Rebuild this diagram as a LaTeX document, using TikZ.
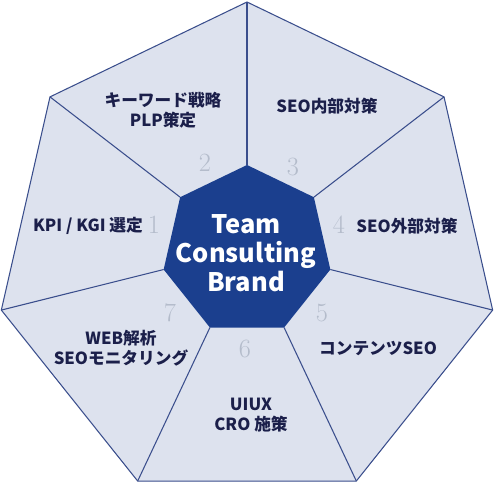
\documentclass[tikz,border=0pt]{standalone}
\usepackage{fontspec}
\newfontfamily\jpfont{Noto Sans CJK JP}
\definecolor{cellfill}{HTML}{DDE2EE}
\definecolor{edgeblue}{HTML}{3A4E8C}
\definecolor{corefill}{HTML}{1B3F8E}
\definecolor{labelink}{HTML}{1B1F4A}
\definecolor{numgray}{HTML}{B4BCCB}
\tikzset{
  label/.style={text=labelink, font=\jpfont\bfseries\fontsize{9.5}{11.5}\selectfont, align=center, inner sep=0pt},
  num/.style={text=numgray, font=\fontsize{15}{15}\selectfont, inner sep=0pt}
}

\begin{document}
\begin{tikzpicture}[x=0.02cm, y=-0.02cm]
\useasboundingbox (0,0) rectangle (494,483);

% corner points of both heptagons
\foreach \k in {0,...,6} {
  \coordinate (o\k) at ([shift={(247,254)}]-90+\k*360/7:252);
  \coordinate (i\k) at ([shift={(247,250.5)}]-90+\k*360/7:85.5);
}

\filldraw[fill=cellfill, draw=edgeblue, line width=0.6pt]
  (o0) -- (o1) -- (o2) -- (o3) -- (o4) -- (o5) -- (o6) -- cycle;
\foreach \k in {0,...,6}
  \draw[edgeblue, line width=0.6pt] (i\k) -- (o\k);
\fill[corefill] (i0) -- (i1) -- (i2) -- (i3) -- (i4) -- (i5) -- (i6) -- cycle;

\node[text=white, font=\jpfont\bfseries\fontsize{14.5}{16.5}\selectfont, align=center] (core) at (246,253) {Team\\Consulting\\Brand};

% segment texts
\node[label] (kpi) at (88,226) {KPI / KGI 選定};
\node[label] (kw) at (163,110) {キーワード戦略\\PLP策定};
\node[label] (inner) at (327,106) {SEO内部対策};
\node[label] (outer) at (407,226) {SEO外部対策};
\node[label] (cont) at (378,348) {コンテンツSEO};
\node[label] (uiux) at (251,415) {UIUX\\CRO 施策};
\node[label] (web) at (121,348) {WEB解析\\SEOモニタリング};

% numbers
\node[num] (n1) at (154,225) {1};
\node[num] (n2) at (205,163) {2};
\node[num] (n3) at (293,167) {3};
\node[num] (n4) at (339,225) {4};
\node[num] (n5) at (322,313) {5};
\node[num] (n6) at (245,349) {6};
\node[num] (n7) at (170,313) {7};
\end{tikzpicture}
\end{document}
